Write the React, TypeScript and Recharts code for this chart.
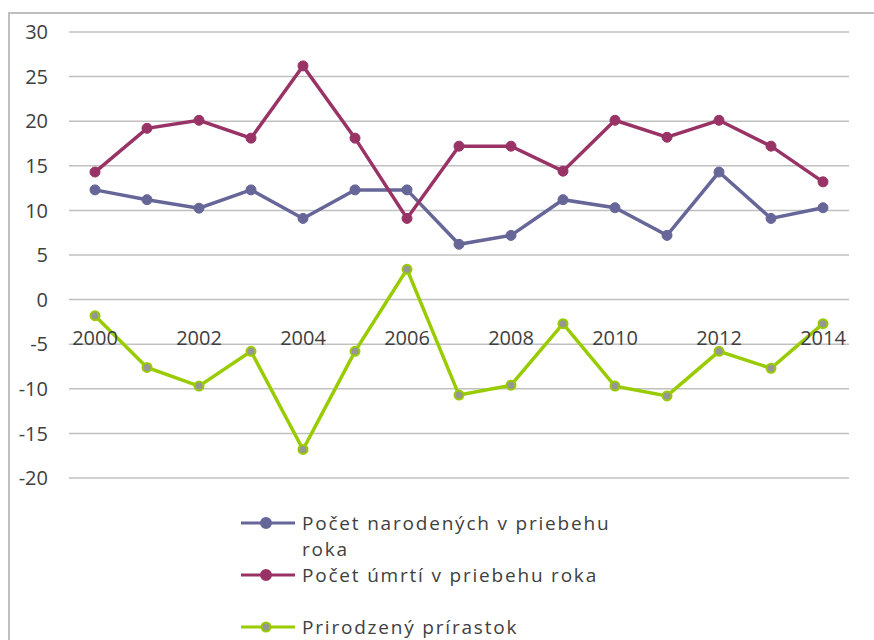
import { LineChart, Line, XAxis, YAxis, CartesianGrid, Legend } from "recharts";

const years = [
  "2000", "2001", "2002", "2003", "2004", "2005", "2006", "2007",
  "2008", "2009", "2010", "2011", "2012", "2013", "2014",
];
const births = [12.3, 11.2, 10.25, 12.3, 9.1, 12.3, 12.3, 6.2, 7.2, 11.2, 10.3, 7.2, 14.3, 9.1, 10.3];
const deaths = [14.3, 19.2, 20.1, 18.1, 26.2, 18.1, 9.1, 17.2, 17.2, 14.4, 20.1, 18.2, 20.1, 17.2, 13.2];
const increase = [-1.8, -7.6, -9.7, -5.8, -16.8, -5.8, 3.4, -10.7, -9.6, -2.7, -9.7, -10.8, -5.8, -7.7, -2.7];
const yTicks = [-20, -15, -10, -5, 0, 5, 10, 15, 20, 25, 30];

const seriesNames = [
  "Počet narodených v priebehu roka",
  "Počet úmrtí v priebehu roka",
  "Prirodzený prírastok",
];

const data = years.map((year, i) => ({
  year,
  births: births[i],
  deaths: deaths[i],
  increase: increase[i],
}));

const FONT = "'Open Sans', sans-serif";
const TEXT = "#404040";
const BLUE = "#666699";
const PURPLE = "#993366";
const GREEN = "#99cc00";
const GRAY = "#969696";

const legendItems = [
  { name: seriesNames[0], line: BLUE, fill: BLUE },
  { name: seriesNames[1], line: PURPLE, fill: PURPLE },
  { name: seriesNames[2], line: GREEN, fill: GRAY },
];

// year labels sit just under the zero line, like Excel does it
function YearTick({ x, y, payload }: any) {
  return (
    <text x={x} y={y} dy={-133} textAnchor="middle" fill={TEXT} fontSize={20} fontFamily={FONT}>
      {payload.value}
    </text>
  );
}

function ChartLegend() {
  return (
    <div style={{ fontFamily: FONT, fontSize: 19, color: TEXT, letterSpacing: 1.8 }}>
      {legendItems.map((item) => (
        <div key={item.name} style={{ display: "flex", alignItems: "flex-start", height: 52 }}>
          <svg width={54} height={26} style={{ flex: "none" }}>
            <line x1={0} x2={54} y1={13} y2={13} stroke={item.line} strokeWidth={3} />
            <circle cx={25} cy={13} r={item.fill === GRAY ? 4.5 : 5} fill={item.fill} stroke={item.line} strokeWidth={2} />
          </svg>
          <div style={{ marginLeft: 7, width: 330, lineHeight: "26px" }}>{item.name}</div>
        </div>
      ))}
    </div>
  );
}

export default function App() {
  return (
    <div style={{ position: "relative", width: 874, height: 640, overflow: "hidden", background: "#fff" }}>
      <style>{`body{margin:0;overflow:hidden}`}</style>
      <div
        style={{
          position: "absolute",
          left: 8,
          top: 12,
          width: 900,
          height: 700,
          borderTop: "2px solid #bfbfbf",
          borderLeft: "2px solid #bfbfbf",
        }}
      />
      <div style={{ position: "absolute", left: 0, top: 0 }}>
        <LineChart width={874} height={640} data={data} margin={{ top: 32, right: 25, left: 0, bottom: 132 }}>
          <CartesianGrid vertical={false} stroke="#c0c0c0" strokeWidth={1.5} />
          <XAxis
            dataKey="year"
            interval={1}
            axisLine={false}
            tickLine={false}
            tickSize={0}
            tickMargin={0}
            height={30}
            padding={{ left: 26, right: 26 }}
            tick={<YearTick />}
          />
          <YAxis
            domain={[-20, 30]}
            ticks={yTicks}
            width={69}
            axisLine={false}
            tickLine={false}
            tickSize={0}
            tickMargin={21}
            tick={{ fill: TEXT, fontSize: 20, fontFamily: FONT }}
          />
          <Legend
            layout="vertical"
            align="center"
            verticalAlign="middle"
            content={<ChartLegend />}
            wrapperStyle={{ position: "absolute", left: 241, top: 510, width: 420 }}
          />
          <Line
            dataKey="births"
            name={seriesNames[0]}
            stroke={BLUE}
            strokeWidth={3.5}
            dot={{ r: 5, fill: BLUE, stroke: BLUE, strokeWidth: 1 }}
            activeDot={false}
            isAnimationActive={false}
          />
          <Line
            dataKey="deaths"
            name={seriesNames[1]}
            stroke={PURPLE}
            strokeWidth={3.5}
            dot={{ r: 5, fill: PURPLE, stroke: PURPLE, strokeWidth: 1 }}
            activeDot={false}
            isAnimationActive={false}
          />
          <Line
            dataKey="increase"
            name={seriesNames[2]}
            stroke={GREEN}
            strokeWidth={3.5}
            dot={{ r: 4.5, fill: GRAY, stroke: GREEN, strokeWidth: 2 }}
            activeDot={false}
            isAnimationActive={false}
          />
        </LineChart>
      </div>
    </div>
  );
}
